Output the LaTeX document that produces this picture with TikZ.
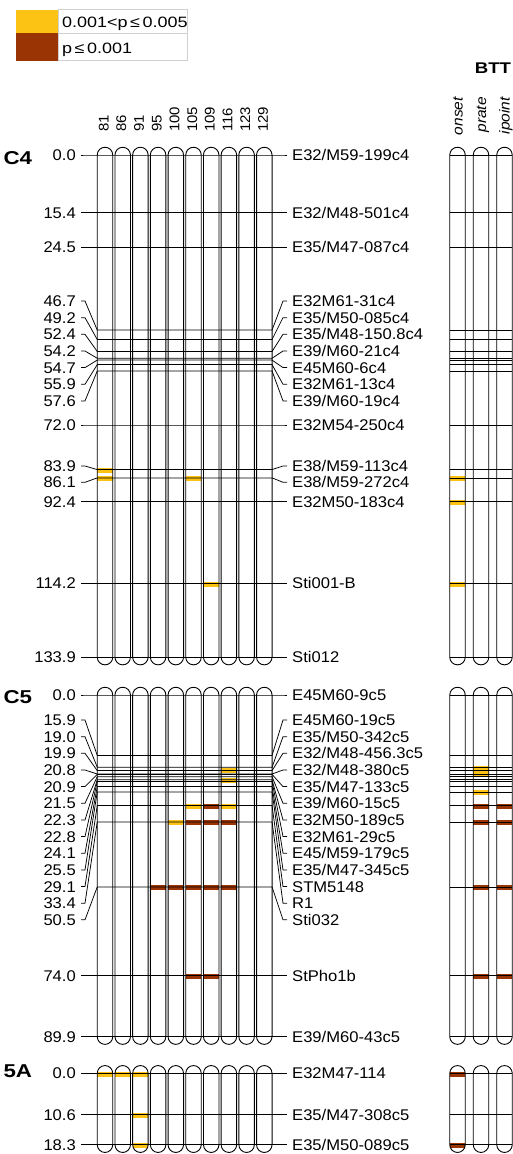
\documentclass[tikz,border=0pt]{standalone}
\usepackage{fontspec}
\setmainfont{Liberation Sans}
\newfontfamily\labfont[FakeStretch=1.07]{Liberation Sans}
\newfontfamily\grpfont[FakeStretch=1.2]{Liberation Sans}
\definecolor{sigY}{RGB}{252,194,20}
\definecolor{sigB}{RGB}{155,52,5}
\definecolor{lgray}{RGB}{208,208,208}
\newcommand\Lx{105,122.7,140.4,158.1,175.8,193.5,211.2,228.9,246.6,264.3}
\newcommand\Bx{457.5,481,504.5}
% chromosome bodies: top y, bottom y
\newcommand\chromfill[2]{%
  \foreach \cx in \Lx {\fill[white] (\cx-7.75,#1-7.75) rectangle (\cx+7.75,#2+7.75);}
  \foreach \cx in \Bx {\fill[white] (\cx-7.75,#1-7.75) rectangle (\cx+7.75,#2+7.75);}}
\newcommand\chromdraw[2]{%
  \foreach \cx in \Lx {\draw[chrom] (\cx-7.75,#1-7.75) rectangle (\cx+7.75,#2+7.75);}
  \foreach \cx in \Bx {\draw[chrom] (\cx-7.75,#1-7.75) rectangle (\cx+7.75,#2+7.75);}}
\newcommand\band[3]{\fill[#3] (#1-7.75,#2-1.5) rectangle (#1+7.75,#2+3.5);}
% marker: id, marker y, label y, left text, right text
\newcommand\mrk[5]{%
  \node[lab, anchor=east] (L-#1) at (76,#3) {#4};
  \node[lab, anchor=west] (R-#1) at (292,#3) {#5};
  \draw[mline] ([xshift=5pt]L-#1.east) -- ++(4,0) -- (97.25,#2) -- (272.05,#2) -- (283,#3) -- ([xshift=-5pt]R-#1.west);
  \draw[mline] (449.75,#2) -- (512.25,#2);}
\begin{document}
\begin{tikzpicture}[x=1pt,y=-1pt,
  chrom/.style={line width=0.9pt, rounded corners=7.75pt},
  mline/.style={line width=0.75pt},
  lab/.style={inner sep=0pt, text height=11.1pt, text depth=0pt, font=\labfont\fontsize{15.5}{16}\selectfont},
  collab/.style={inner sep=0pt, text height=10pt, text depth=0pt, font=\labfont\fontsize{14}{15}\selectfont},
  btlab/.style={inner sep=0pt, text height=10pt, text depth=0pt, font=\labfont\itshape\fontsize{14.5}{15}\selectfont},
  grp/.style={inner sep=0pt, anchor=west, text height=13.3pt, text depth=0pt, font=\grpfont\bfseries\fontsize{18.6}{19}\selectfont},
  hdr/.style={inner sep=0pt, text height=11pt, text depth=0pt, font=\grpfont\bfseries\fontsize{15.5}{16}\selectfont},
  legbox/.style={draw=lgray, line width=0.9pt, fill=white},
  legtext/.style={inner sep=0pt, anchor=west, text height=10.7pt, text depth=0pt, font=\grpfont\fontsize{15}{16}\selectfont}]
\useasboundingbox (0,0) rectangle (513,1154);
% legend
\draw[legbox] (58,9.5) rectangle (187,33);
\draw[legbox] (58,33) rectangle (187,60.5);
\fill[sigY] (16,10) rectangle (58,33);
\fill[sigB] (16,33) rectangle (58,60.5);
\node[legtext] (leg1) at (62,22) {0.001<p\,≤\,0.005};
\node[legtext] (leg2) at (62,48) {p\,≤\,0.001};
% headers
\node[hdr] (btt) at (493,67.5) {BTT};
\foreach \cx/\t in {105/81,122.7/86,140.4/91,158.1/95,175.8/100,193.5/105,211.2/109,228.9/116,246.6/123,264.3/129}
  {\node[collab, rotate=90, anchor=west] (col\t) at (\cx-1.5,132) {\t};}
\node[btlab, rotate=90, anchor=east] (onset) at (457.5,97) {onset};
\node[btlab, rotate=90, anchor=east] (prate) at (481,97) {prate};
\node[btlab, rotate=90, anchor=east] (ipoint) at (504.5,97) {ipoint};
% group labels
\node[grp] (gC4) at (3.3,158.3) {C4};
\node[grp] (gC5) at (3.3,696.7) {C5};
\node[grp] (g5A) at (3.3,1071) {5A};
% chromosome fills
\chromfill{155}{657.1}
\chromfill{695}{1036.6}
\chromfill{1073.3}{1144.7}
% bands C4
\band{105}{469.6}{sigY}
\band{105}{477.9}{sigY}
\band{193.5}{477.9}{sigY}
\band{457.5}{477.9}{sigY}
\band{457.5}{501.5}{sigY}
\band{211.2}{583.25}{sigY}
\band{457.5}{583.25}{sigY}
% bands C5
\band{228.9}{769.5}{sigY}
\band{228.9}{779.7}{sigY}
\band{481}{767.2}{sigY}
\band{481}{772.5}{sigY}
\band{481}{791.9}{sigY}
\band{193.5}{805.6}{sigY}
\band{211.2}{805.6}{sigB}
\band{228.9}{805.6}{sigY}
\band{481}{805.6}{sigB}
\band{504.5}{805.6}{sigB}
\band{175.8}{821.9}{sigY}
\band{193.5}{821.9}{sigB}
\band{211.2}{821.9}{sigB}
\band{228.9}{821.9}{sigB}
\band{481}{821.9}{sigB}
\band{504.5}{821.9}{sigB}
\foreach \cx in {158.1,175.8,193.5,211.2,228.9,481,504.5} {\band{\cx}{886.9}{sigB}}
\foreach \cx in {193.5,211.2,481,504.5} {\band{\cx}{975.5}{sigB}}
% bands 5A
\foreach \cx in {105,122.7,140.4} {\band{\cx}{1073.3}{sigY}}
\band{457.5}{1073.3}{sigB}
\band{140.4}{1114.6}{sigY}
\band{140.4}{1144.7}{sigY}
\band{457.5}{1144.7}{sigB}
% markers C4
\mrk{a1}{155}{155}{0.0}{E32/M59-199c4}
\mrk{a2}{212.75}{212.75}{15.4}{E32/M48-501c4}
\mrk{a3}{246.9}{246.9}{24.5}{E35/M47-087c4}
\mrk{a4}{330.1}{301}{46.7}{E32M61-31c4}
\mrk{a5}{339.5}{317.65}{49.2}{E35/M50-085c4}
\mrk{a6}{351.5}{334.3}{52.4}{E35/M48-150.8c4}
\mrk{a7}{358.25}{351}{54.2}{E39/M60-21c4}
\mrk{a8}{360.1}{367.6}{54.7}{E45M60-6c4}
\mrk{a9}{364.6}{384.3}{55.9}{E32M61-13c4}
\mrk{a10}{371}{400.9}{57.6}{E39/M60-19c4}
\mrk{a11}{425}{425}{72.0}{E32M54-250c4}
\mrk{a12}{469.6}{466}{83.9}{E38/M59-113c4}
\mrk{a13}{477.9}{482.3}{86.1}{E38/M59-272c4}
\mrk{a14}{501.5}{501.5}{92.4}{E32M50-183c4}
\mrk{a15}{583.25}{583.25}{114.2}{Sti001-B}
\mrk{a16}{657.1}{657.1}{133.9}{Sti012}
% markers C5
\mrk{b1}{695}{695}{0.0}{E45M60-9c5}
\mrk{b2}{755.4}{720}{15.9}{E45M60-19c5}
\mrk{b3}{767.2}{736.7}{19.0}{E35/M50-342c5}
\mrk{b4}{770.6}{753.3}{19.9}{E32/M48-456.3c5}
\mrk{b5}{774}{770}{20.8}{E32/M48-380c5}
\mrk{b6}{774.4}{786.6}{20.9}{E35/M47-133c5}
\mrk{b7}{776.7}{803.3}{21.5}{E39/M60-15c5}
\mrk{b8}{779.7}{820}{22.3}{E32M50-189c5}
\mrk{b9}{781.6}{836.6}{22.8}{E32M61-29c5}
\mrk{b10}{786.6}{853.2}{24.1}{E45/M59-179c5}
\mrk{b11}{791.9}{869.9}{25.5}{E35/M47-345c5}
\mrk{b12}{805.6}{886.5}{29.1}{STM5148}
\mrk{b13}{821.9}{903.2}{33.4}{R1}
\mrk{b14}{886.9}{919.8}{50.5}{Sti032}
\mrk{b15}{975.5}{975.5}{74.0}{StPho1b}
\mrk{b16}{1036.6}{1036.6}{89.9}{E39/M60-43c5}
% markers 5A
\mrk{c1}{1073.3}{1073.3}{0.0}{E32M47-114}
\mrk{c2}{1114.6}{1114.6}{10.6}{E35/M47-308c5}
\mrk{c3}{1144.7}{1144.7}{18.3}{E35/M50-089c5}
% chromosome outlines
\chromdraw{155}{657.1}
\chromdraw{695}{1036.6}
\chromdraw{1073.3}{1144.7}
\end{tikzpicture}
\end{document}
